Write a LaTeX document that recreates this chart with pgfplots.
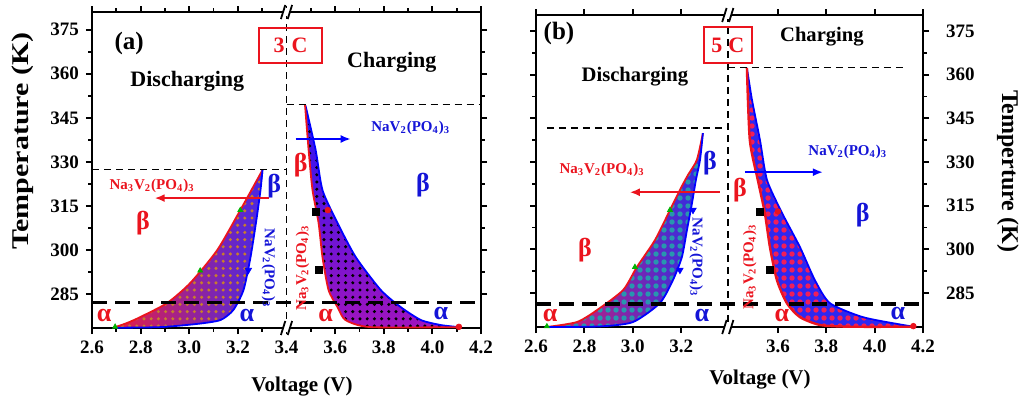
\documentclass[border=0pt]{standalone}
\usepackage{fontspec}
\setmainfont{Liberation Serif}
\usepackage{graphicx}
\usepackage{pgfplots}
\pgfplotsset{compat=1.18}
\usetikzlibrary{patterns,arrows.meta}

\definecolor{tred}{RGB}{235,20,30}
\definecolor{tblue}{RGB}{20,20,215}
\definecolor{aDisL}{RGB}{232,30,70}
\definecolor{aDisR}{RGB}{70,40,232}
\definecolor{aDot}{RGB}{200,125,45}
\definecolor{aChT}{RGB}{40,20,245}
\definecolor{aChB}{RGB}{160,20,190}
\definecolor{bDisL}{RGB}{215,30,110}
\definecolor{bDisR}{RGB}{45,45,230}
\definecolor{bDot}{RGB}{40,150,175}
\definecolor{bChF}{RGB}{45,40,240}
\definecolor{bChD}{RGB}{240,30,90}

\pgfdeclarepatternformonly{dotsA}{\pgfqpoint{-1pt}{-1pt}}{\pgfqpoint{1pt}{1pt}}{\pgfqpoint{3.6pt}{3.6pt}}{\pgfpathcircle{\pgfpointorigin}{0.85pt}\pgfusepath{fill}}
\pgfdeclarepatternformonly{dotsB}{\pgfqpoint{-1.5pt}{-1.5pt}}{\pgfqpoint{1.5pt}{1.5pt}}{\pgfqpoint{4pt}{4pt}}{\pgfpathcircle{\pgfpointorigin}{1.35pt}\pgfusepath{fill}}

\newcommand{\brk}[2]{%
 \fill[white] ([xshift=-1.6pt,yshift=-2.2pt]axis cs:#1,#2) rectangle ([xshift=1.6pt,yshift=2.2pt]axis cs:#1,#2);
 \draw[line width=0.9pt] ([xshift=-2.8pt,yshift=-3.5pt]axis cs:#1,#2) -- ++(2.2pt,7pt);
 \draw[line width=0.9pt] ([xshift=0.6pt,yshift=-3.5pt]axis cs:#1,#2) -- ++(2.2pt,7pt);
}

\tikzset{
 grk/.style={font=\bfseries\fontsize{13}{14}\selectfont},
 chem/.style={font=\bfseries\fontsize{7.5}{9}\selectfont},
 ttl/.style={font=\bfseries\fontsize{11}{12}\selectfont},
}
\newcommand{\NVP}{NaV\textsubscript{2}(PO\textsubscript{4})\textsubscript{3}}
\newcommand{\NNVP}{Na\textsubscript{3}V\textsubscript{2}(PO\textsubscript{4})\textsubscript{3}}

\pgfplotsset{
 panel/.style={
   scale only axis, clip=false,
   xmin=2.6, xmax=4.2,
   axis line style={line width=1.2pt},
   tick style={black, line width=0.9pt},
   major tick length=3pt, minor tick length=1.8pt,
   tick align=outside,
   minor x tick num=1, minor y tick num=1,
   ytick={285,300,315,330,345,360,375},
   /pgf/number format/assume math mode=true,
   tick label style={font=\bfseries\fontsize{9.5}{10}\selectfont},
 },
 thin dash/.style={black, line width=0.7pt, dash pattern=on 3.5pt off 2.5pt},
 thick dash/.style={black, line width=1.6pt, dash pattern=on 7.5pt off 4pt},
}

\begin{document}
\begin{tikzpicture}
\useasboundingbox (-46pt,-35pt) rectangle (464pt,164pt);

% ---------------- panel (a) ----------------
\begin{axis}[panel, at={(0pt,0pt)}, anchor=south west, width=194.5pt, height=158pt,
  ymin=273.5, ymax=381,
  xtick={2.6,2.8,3.0,3.2,3.4,3.6,3.8,4.0,4.2},
  xticklabels={2.6,2.8,3.0,3.2,3.4,3.6,3.8,4.0,4.2},
  yticklabel pos=left]
% discharge region
\addplot[draw=none, left color=aDisL, right color=aDisR, smooth, tension=0.4] coordinates {
 (2.695,273.8) (2.744,275.2) (2.798,277.2) (2.909,282.0) (3.004,288.8) (3.115,300.0) (3.210,313.6) (3.301,327.2)
 (3.293,320.4) (3.276,310.2) (3.252,297.6) (3.223,286.4) (3.181,279.6) (3.128,276.2) (3.033,274.9) (2.880,273.8) (2.700,273.6)};
\addplot[draw=none, pattern=dotsA, pattern color=aDot, smooth, tension=0.4] coordinates {
 (2.695,273.8) (2.744,275.2) (2.798,277.2) (2.909,282.0) (3.004,288.8) (3.115,300.0) (3.210,313.6) (3.301,327.2)
 (3.293,320.4) (3.276,310.2) (3.252,297.6) (3.223,286.4) (3.181,279.6) (3.128,276.2) (3.033,274.9) (2.880,273.8) (2.700,273.6)};
\addplot[tred, line width=0.9pt, smooth, tension=0.4] coordinates {
 (2.695,273.8) (2.744,275.2) (2.798,277.2) (2.909,282.0) (3.004,288.8) (3.115,300.0) (3.210,313.6) (3.301,327.2)};
\addplot[blue, line width=0.9pt, smooth, tension=0.4] coordinates {
 (3.301,327.2) (3.293,320.4) (3.276,310.2) (3.252,297.6) (3.223,286.4) (3.181,279.6) (3.128,276.2) (3.033,274.9) (2.880,273.8) (2.700,273.6)};
% charge region
\addplot[draw=none, top color=aChT, bottom color=aChB, smooth, tension=0.4] coordinates {
 (3.478,349.2) (3.491,334.0) (3.507,320.4) (3.532,309.2) (3.548,297.6) (3.573,286.4) (3.610,280.6) (3.643,276.2) (3.746,273.8) (4.109,273.8)
 (4.035,274.5) (3.953,276.2) (3.870,280.6) (3.788,286.4) (3.685,297.6) (3.610,309.2) (3.548,320.4) (3.520,334.0) (3.482,348.5)};
\addplot[draw=none, pattern=dotsA, pattern color=black, smooth, tension=0.4] coordinates {
 (3.478,349.2) (3.491,334.0) (3.507,320.4) (3.532,309.2) (3.548,297.6) (3.573,286.4) (3.610,280.6) (3.643,276.2) (3.746,273.8) (4.109,273.8)
 (4.035,274.5) (3.953,276.2) (3.870,280.6) (3.788,286.4) (3.685,297.6) (3.610,309.2) (3.548,320.4) (3.520,334.0) (3.482,348.5)};
\addplot[blue, line width=0.9pt, smooth, tension=0.4] coordinates {
 (4.109,273.8) (4.035,274.5) (3.953,276.2) (3.870,280.6) (3.788,286.4) (3.685,297.6) (3.610,309.2) (3.548,320.4) (3.520,334.0) (3.478,349.2)};
\addplot[tred, line width=0.9pt, smooth, tension=0.4] coordinates {
 (3.476,349.6) (3.491,334.0) (3.507,320.4) (3.532,309.2) (3.548,297.6) (3.573,286.4) (3.610,280.6) (3.643,276.2) (3.746,273.8) (4.109,273.8)};
\addplot[only marks, mark=*, tred, mark size=1.4pt] coordinates {(4.109,273.9) (3.570,313.6)};
% small markers
\addplot[only marks, mark=triangle*, green!70!black, mark size=1.4pt] coordinates {(2.695,273.9) (3.045,293.0) (3.210,313.6)};
\addplot[only marks, mark=triangle*, mark options={rotate=180}, blue, mark size=1.8pt] coordinates {(3.243,293.2)};
\addplot[only marks, mark=square*, black, mark size=1.8pt] coordinates {(3.520,312.9) (3.532,293.2)};
% guide lines
\addplot[thin dash] coordinates {(2.6,327.5) (3.4,327.5)};
\addplot[thin dash] coordinates {(3.4,349.6) (4.2,349.6)};
\addplot[thin dash] coordinates {(3.4,381) (3.4,273.5)};
\addplot[thick dash] coordinates {(2.6,282.1) (4.2,282.1)};
% arrows
\addplot[tred, line width=0.9pt, -{Latex[length=5pt,width=4pt]}] coordinates {(3.33,317.7) (2.858,317.7)};
\addplot[blue, line width=0.9pt, -{Latex[length=5pt,width=4pt]}] coordinates {(3.437,337.8) (3.664,337.8)};
% texts
\node[font=\bfseries\fontsize{12.5}{13}\selectfont] at (axis cs:2.753,370.3) {(a)};
\node[ttl] at (axis cs:2.992,357.3) {Discharging};
\node[ttl] at (axis cs:3.833,364.0) {Charging};
\node[draw=tred, line width=1pt, minimum width=31.5pt, minimum height=17.5pt, text=tred, inner sep=1pt,
      font=\bfseries\fontsize{11}{12}\selectfont] at (axis cs:3.4165,369.6) {3\hspace{3.5pt}C};
\node[chem, text=tred] at (axis cs:2.847,321.9) {\NNVP};
\node[chem, text=tblue] at (axis cs:3.911,341.6) {\NVP};
\node[chem, text=tblue, rotate=-90] at (axis cs:3.326,293.9) {\NVP};
\node[chem, text=tred, rotate=90] at (axis cs:3.466,293.9) {\NNVP};
\node[grk, text=tred] at (axis cs:2.810,309.2) {β};
\node[grk, text=tblue] at (axis cs:3.350,321.8) {β};
\node[grk, text=tred] at (axis cs:3.458,329.0) {β};
\node[grk, text=tblue] at (axis cs:3.961,322.1) {β};
\node[grk, text=tred] at (axis cs:2.650,277.9) {α};
\node[grk, text=tblue] at (axis cs:3.237,277.6) {α};
\node[grk, text=tred] at (axis cs:3.561,277.9) {α};
\node[grk, text=tblue] at (axis cs:4.035,278.6) {α};
\brk{3.4}{273.5}
\brk{3.4}{381}
\end{axis}

% ---------------- panel (b) ----------------
\begin{axis}[panel, at={(222pt,0.5pt)}, anchor=south west, width=193.5pt, height=156pt,
  ymin=273.3, ymax=380.5,
  xtick={2.6,2.8,3.0,3.2,3.6,3.8,4.0,4.2},
  xticklabels={2.6,2.8,3.0,3.2,3.6,3.8,4.0,4.2},
  yticklabel pos=right,
  yticklabel style={xshift=5pt}]
% discharge region
\addplot[draw=none, left color=bDisL, right color=bDisR, smooth, tension=0.4] coordinates {
 (2.645,273.3) (2.769,275.0) (2.852,279.1) (2.960,286.0) (3.017,293.9) (3.092,303.2) (3.154,313.5) (3.195,320.4) (3.228,325.5) (3.265,330.7) (3.290,339.9)
 (3.278,330.7) (3.261,323.8) (3.245,315.9) (3.224,306.6) (3.203,297.3) (3.166,289.4) (3.112,281.5) (3.001,275.0) (2.864,273.5) (2.650,273.3)};
\addplot[draw=none, pattern=dotsB, pattern color=bDot, smooth, tension=0.4] coordinates {
 (2.645,273.3) (2.769,275.0) (2.852,279.1) (2.960,286.0) (3.017,293.9) (3.092,303.2) (3.154,313.5) (3.195,320.4) (3.228,325.5) (3.265,330.7) (3.290,339.9)
 (3.278,330.7) (3.261,323.8) (3.245,315.9) (3.224,306.6) (3.203,297.3) (3.166,289.4) (3.112,281.5) (3.001,275.0) (2.864,273.5) (2.650,273.3)};
\addplot[tred, line width=0.9pt, smooth, tension=0.4] coordinates {
 (2.645,273.3) (2.769,275.0) (2.852,279.1) (2.960,286.0) (3.017,293.9) (3.092,303.2) (3.154,313.5) (3.195,320.4) (3.228,325.5) (3.265,330.7) (3.290,339.9)};
\addplot[blue, line width=0.9pt, smooth, tension=0.4] coordinates {
 (3.290,339.9) (3.278,330.7) (3.261,323.8) (3.245,315.9) (3.224,306.6) (3.203,297.3) (3.166,289.4) (3.112,281.5) (3.001,275.0) (2.864,273.5) (2.650,273.3)};
% charge region
\addplot[draw=none, fill=bChF, smooth, tension=0.4] coordinates {
 (3.472,362.3) (3.484,337.5) (3.517,323.8) (3.546,312.5) (3.567,300.8) (3.596,289.4) (3.637,281.5) (3.691,276.7) (3.774,274.0) (3.898,273.4) (4.166,273.4)
 (4.117,274.0) (3.951,276.7) (3.815,281.5) (3.753,289.4) (3.691,300.8) (3.617,312.5) (3.555,323.8) (3.526,337.5) (3.493,351.3) (3.474,361.5)};
\addplot[draw=none, pattern=dotsB, pattern color=bChD, smooth, tension=0.4] coordinates {
 (3.472,362.3) (3.484,337.5) (3.517,323.8) (3.546,312.5) (3.567,300.8) (3.596,289.4) (3.637,281.5) (3.691,276.7) (3.774,274.0) (3.898,273.4) (4.166,273.4)
 (4.117,274.0) (3.951,276.7) (3.815,281.5) (3.753,289.4) (3.691,300.8) (3.617,312.5) (3.555,323.8) (3.526,337.5) (3.493,351.3) (3.474,361.5)};
\addplot[blue, line width=0.9pt, smooth, tension=0.4] coordinates {
 (4.166,273.4) (4.117,274.0) (3.951,276.7) (3.815,281.5) (3.753,289.4) (3.691,300.8) (3.617,312.5) (3.555,323.8) (3.526,337.5) (3.493,351.3) (3.472,362.3)};
\addplot[tred, line width=1.2pt, smooth, tension=0.4] coordinates {
 (3.472,362.3) (3.484,337.5) (3.517,323.8) (3.546,312.5) (3.567,300.8) (3.596,289.4) (3.637,281.5) (3.691,276.7) (3.774,274.0) (3.898,273.4) (4.166,273.4)};
\addplot[only marks, mark=*, tred, mark size=1.4pt] coordinates {(4.160,273.6) (3.600,313.0)};
% small markers
\addplot[only marks, mark=triangle*, green!70!black, mark size=1.4pt] coordinates {(2.645,273.5) (3.009,293.9) (3.154,313.5)};
\addplot[only marks, mark=triangle*, mark options={rotate=180}, blue, mark size=1.8pt] coordinates {(3.195,292.9) (3.249,313.5)};
\addplot[only marks, mark=square*, black, mark size=1.8pt] coordinates {(3.526,312.8) (3.567,292.9)};
% guide lines
\addplot[thin dash] coordinates {(2.645,341.7) (3.393,341.7)};
\addplot[thin dash] coordinates {(3.393,362.5) (4.137,362.5)};
\addplot[thin dash] coordinates {(3.393,380.5) (3.393,273.3)};
\addplot[thick dash] coordinates {(2.6,281.2) (4.2,281.2)};
% arrows
\addplot[tred, line width=0.9pt, -{Latex[length=5pt,width=4pt]}] coordinates {(3.360,319.6) (2.988,319.6)};
\addplot[blue, line width=0.9pt, -{Latex[length=5pt,width=4pt]}] coordinates {(3.464,326.5) (3.786,326.5)};
% texts
\node[font=\bfseries\fontsize{12.5}{13}\selectfont] at (axis cs:2.695,374.3) {(b)};
\node[font=\bfseries\fontsize{10.3}{12}\selectfont] at (axis cs:3.009,359.4) {Discharging};
\node[font=\bfseries\fontsize{10.3}{12}\selectfont] at (axis cs:3.782,373.0) {Charging};
\node[draw=tred, line width=1pt, minimum width=24pt, minimum height=18pt, text=tred, inner sep=1pt,
      font=\bfseries\fontsize{11}{12}\selectfont] at (axis cs:3.393,370.2) {5\hspace{3pt}C};
\node[chem, text=tred] at (axis cs:2.873,327.3) {\NNVP};
\node[chem, text=tblue] at (axis cs:3.889,333.5) {\NVP};
\node[chem, text=tblue, rotate=-90] at (axis cs:3.262,297.3) {\NVP};
\node[chem, text=tred, rotate=90] at (axis cs:3.484,293.9) {\NNVP};
\node[grk, text=tblue] at (axis cs:3.319,329.6) {β};
\node[grk, text=tred] at (axis cs:3.443,320.2) {β};
\node[grk, text=tred] at (axis cs:2.802,299.8) {β};
\node[grk, text=tblue] at (axis cs:3.951,311.8) {β};
\node[grk, text=tred] at (axis cs:2.658,277.4) {α};
\node[grk, text=tblue] at (axis cs:3.286,277.4) {α};
\node[grk, text=tred] at (axis cs:3.617,277.4) {α};
\node[grk, text=tblue] at (axis cs:4.096,278.1) {α};
\brk{3.393}{273.3}
\brk{3.393}{380.5}
\end{axis}

% axis labels
\node[rotate=90, font=\bfseries\fontsize{12}{13}\selectfont] at (-34.5pt,93.5pt) {\scalebox{1.25}[1]{Temperature (K)}};
\node[rotate=-90, font=\bfseries\fontsize{12}{13}\selectfont] at (458pt,78.5pt) {Temperture (K)};
\node[font=\bfseries\fontsize{10.5}{12}\selectfont] at (105pt,-29.5pt) {Voltage (V)};
\node[font=\bfseries\fontsize{10.5}{12}\selectfont] at (334pt,-26pt) {Voltage (V)};
\end{tikzpicture}
\end{document}
